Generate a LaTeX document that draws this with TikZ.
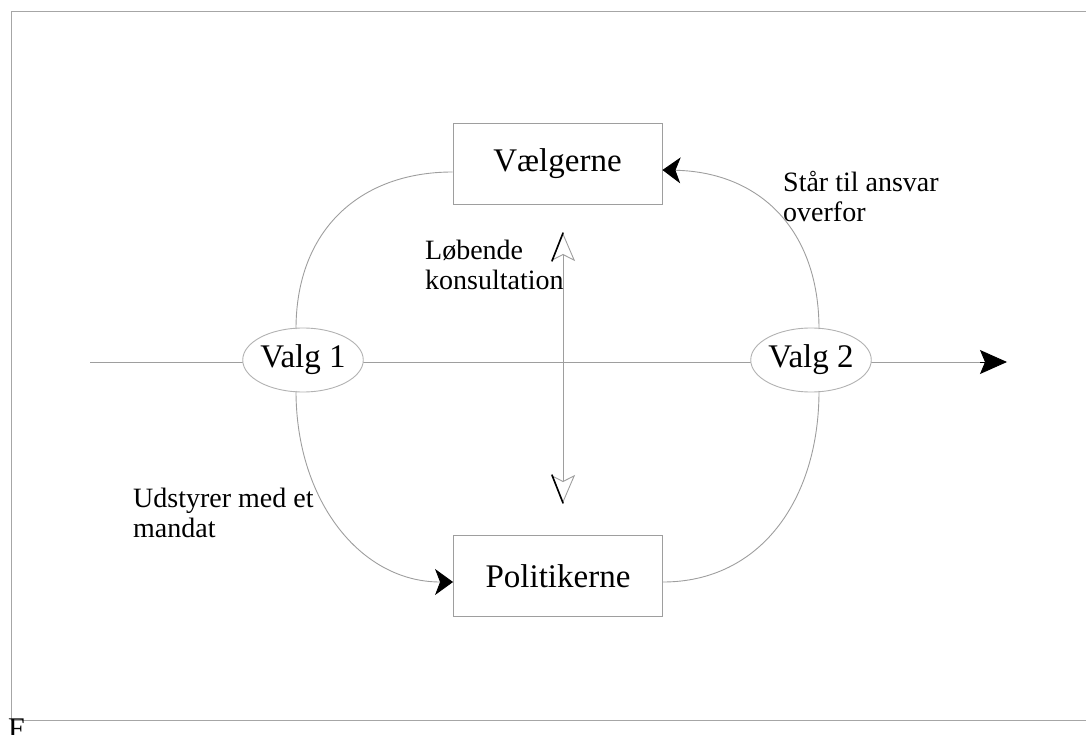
\documentclass[tikz,border=0pt]{standalone}
\usepackage{fontspec}
\setmainfont{Liberation Serif}
\usetikzlibrary{arrows.meta,shapes.geometric}
\begin{document}
\begin{tikzpicture}[x=1pt,y=-1pt,
  frame/.style={draw=black!35,line width=1pt},
  conn/.style={draw=black!38,line width=0.9pt},
  boxnode/.style={draw=black!38,line width=0.9pt,fill=white,minimum width=209pt,minimum height=81pt,inner sep=0pt,font=\fontsize{33}{36}\selectfont},
  valg/.style={ellipse,draw=black!30,line width=0.9pt,fill=white,minimum width=111pt,minimum height=64pt,inner sep=0pt,font=\fontsize{33}{36}\selectfont},
  lbl/.style={align=left,anchor=north west,inner sep=0pt,font=\fontsize{28}{30}\selectfont},
  solidtip/.style={-{Stealth[length=18pt,width=26pt,inset=5pt,black,fill=black,line width=0.9pt]}},
  opentip/.style={{Stealth[open,length=28pt,width=24pt,inset=6pt,line width=0.9pt]}-{Stealth[open,length=28pt,width=24pt,inset=6pt,line width=0.9pt]}}
]
\useasboundingbox (0,0) rectangle (1086,735);
% frame
\coordinate (ftl) at (11,12);
\coordinate (ftr) at (1086,12);
\coordinate (fbl) at (11,720);
\coordinate (fbr) at (1086,720);
\draw[frame] (ftr) -- (ftl) -- (fbl) -- (fbr);
\node[anchor=north west,inner sep=0pt,font=\fontsize{30}{30}\selectfont] (fl) at (8,719) {F};

% time axis
\coordinate (hstart) at (90,362);
\coordinate (hend) at (1007,362);
\draw[conn,-{Stealth[length=27pt,width=24pt,inset=5pt]},color=black] (hstart) -- (hend);
\draw[conn] (hstart) -- (980,362);

% vertical consultation arrow
\coordinate (vtop) at (563,233);
\coordinate (vbot) at (563,503);
\draw[conn,opentip] (vtop) -- (vbot);
\draw[black,line width=1.6pt,line cap=round] (vtop) -- ++(-11,28);
\draw[black,line width=1.6pt,line cap=round] (vbot) -- ++(-11,-28);

% boxes
\node[boxnode] (vael) at (557.5,163.5) {Vælgerne};
\node[boxnode] (pol) at (558,576) {Politikerne};

% elections
\node[valg] (v1) at (303,360) {Valg 1};
\node[valg] (v2) at (811,360) {Valg 2};

% curves
\coordinate (v1t) at (296,329);
\coordinate (v1b) at (296,391);
\coordinate (v2t) at (819,329);
\coordinate (v2b) at (819,391);
\draw[conn] (v1t) .. controls (296,230) and (360,172) .. (vael.west |- 0,172);
\draw[conn,solidtip] (v2t) .. controls (819,230) and (760,172) .. (vael.east |- 0,170);
\draw[conn,solidtip] (v1b) .. controls (296,500) and (360,582) .. (pol.west |- 0,582);
\draw[conn] (v2b) .. controls (819,500) and (760,582) .. (pol.east |- 0,582);

% labels
\node[lbl] (lob) at (425,240) {Løbende\\konsultation};
\node[lbl] (staar) at (783,171) {Står til ansvar\\overfor};
\node[lbl] (udst) at (133,488) {Udstyrer med et\\mandat};
\end{tikzpicture}
\end{document}
